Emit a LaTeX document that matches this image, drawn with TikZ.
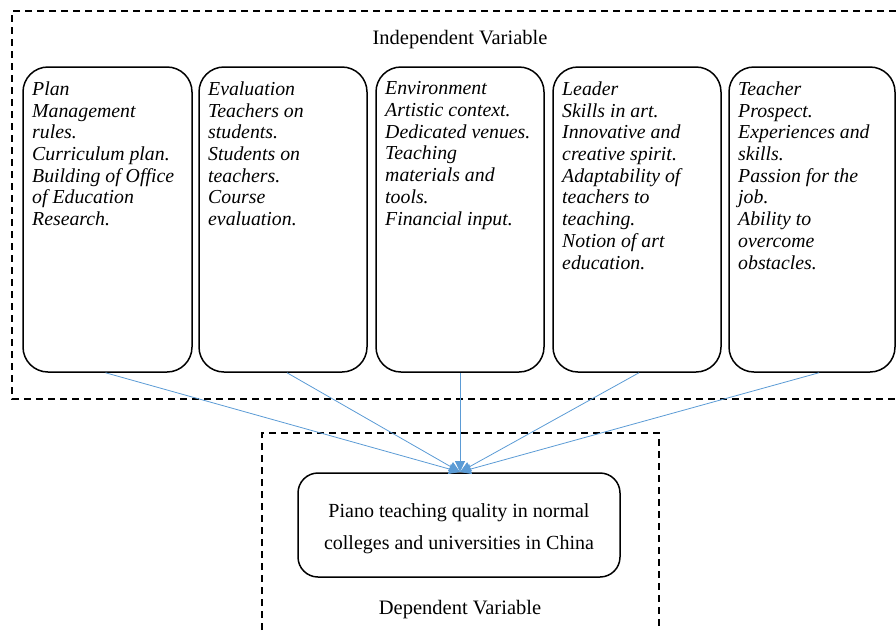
\documentclass[tikz,border=0pt]{standalone}
\usepackage{fontspec}
\setmainfont{Liberation Serif}
\usetikzlibrary{arrows.meta}
\definecolor{connblue}{HTML}{5B9BD5}
\begin{document}
\begin{tikzpicture}[x=1pt,y=-1pt,
  ivbox/.style={draw=black, line width=1.5pt, rounded corners=25pt, minimum height=305pt, inner sep=0pt},
  ivtext/.style={anchor=north west, inner sep=0pt, align=left, font=\fontsize{19.8}{21.7}\selectfont\itshape},
  dvbox/.style={draw=black, line width=1.5pt, rounded corners=20pt, minimum width=322pt, minimum height=104pt, inner sep=0pt},
  dvtext/.style={align=center, inner sep=0pt, font=\fontsize{20}{32}\selectfont},
  lbl/.style={inner sep=0pt, font=\fontsize{20.5}{23}\selectfont},
  dashframe/.style={draw=black, line width=1.5pt, dash pattern=on 7pt off 5pt},
  conn/.style={draw=connblue, line width=0.8pt, -{Triangle[length=11pt,width=10pt]}}
]
\useasboundingbox (0,0) rectangle (896,630);

% dashed frames
\draw[dashframe] (896,11) -- (12,11) -- (12,399) -- (896,399);
\draw[dashframe] (262,630) -- (262,433) -- (659,433) -- (659,630);

% labels
\node[lbl] (ivlabel) at (460,40) {Independent Variable};
\node[lbl] (dvlabel) at (460,610) {Dependent Variable};

% independent variable boxes
\node[ivbox, minimum width=169pt] (b1) at (107.5,219.5) {};
\node[ivbox, minimum width=168pt] (b2) at (283,219.5) {};
\node[ivbox, minimum width=168pt] (b3) at (460,219.5) {};
\node[ivbox, minimum width=168pt] (b4) at (637,219.5) {};
\node[ivbox, minimum width=166pt] (b5) at (812,219.5) {};

\node[ivtext] (t1) at (32,81.5) {Plan\\Management\\rules.\\Curriculum plan.\\Building of Office\\of Education\\Research.};
\node[ivtext] (t2) at (208,81.5) {Evaluation\\Teachers on\\students.\\Students on\\teachers.\\Course\\evaluation.};
\node[ivtext] (t3) at (385,81.5) {Environment\\Artistic context.\\Dedicated venues.\\Teaching\\materials and\\tools.\\Financial input.};
\node[ivtext] (t4) at (562,81.5) {Leader\\Skills in art.\\Innovative and\\creative spirit.\\Adaptability of\\teachers to\\teaching.\\Notion of art\\education.};
\node[ivtext] (t5) at (738,81.5) {Teacher\\Prospect.\\Experiences and\\skills.\\Passion for the\\job.\\Ability to\\overcome\\obstacles.};

% dependent variable box
\node[dvbox] (dv) at (459,525) {};
\node[dvtext] (dvt) at (459,529) {Piano teaching quality in normal\\colleges and universities in China};

\coordinate (tip) at (460,472);

% connectors
\draw[conn] ([xshift=-2pt]b1.south) -- (tip);
\draw[conn] ([xshift=4pt]b2.south) -- (tip);
\draw[conn] (b3.south) -- (tip);
\draw[conn] ([xshift=2pt]b4.south) -- (tip);
\draw[conn] ([xshift=7pt]b5.south) -- (tip);
\end{tikzpicture}
\end{document}
